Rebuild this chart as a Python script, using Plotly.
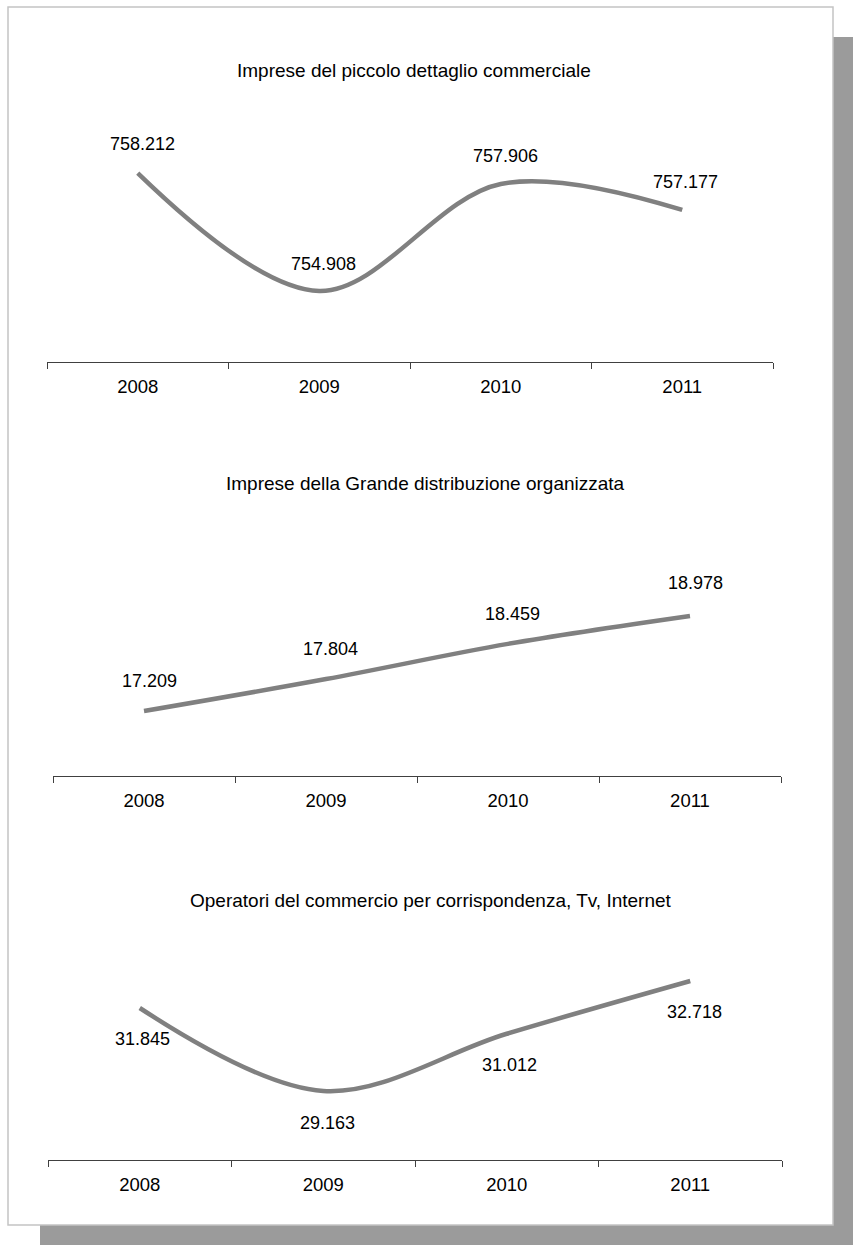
import plotly.graph_objects as go

W, H = 853, 1245

years = ["2008", "2009", "2010", "2011"]

titles = [
    "Imprese del piccolo dettaglio commerciale",
    "Imprese della Grande distribuzione organizzata",
    "Operatori del commercio per corrispondenza, Tv, Internet",
]
values_small_retail = [758.212, 754.908, 757.906, 757.177]
values_large_retail = [17.209, 17.804, 18.459, 18.978]
values_mail_tv_web = [31.845, 29.163, 31.012, 32.718]
label_small_retail = ["758.212", "754.908", "757.906", "757.177"]
label_large_retail = ["17.209", "17.804", "18.459", "18.978"]
label_mail_tv_web = ["31.845", "29.163", "31.012", "32.718"]

series = [values_small_retail, values_large_retail, values_mail_tv_web]
labels = [label_small_retail, label_large_retail, label_mail_tv_web]

# layout (pixel) settings for each panel
x_px = [(47, 773), (53, 781), (48, 782)]
y_px = [(100, 362), (560, 776), (950, 1160)]
y_rng = [(752.919, 760.257), (15.999, 20.021), (26.930, 33.721)]
title_pos = [(414, 70), (425, 483), (431, 900)]
label_shift = [
    [(5, 29), (4, 27), (5, 28), (3, 28)],
    [(5, 30), (4, 30), (4, 30), (5, 33)],
    [(3, -31), (4, -32), (3, -31), (4, -31)],
]

FONT = "Liberation Sans, Arial, sans-serif"
fig = go.Figure()

def px_x(p):
    return p / W

def px_y(p):
    return 1 - p / H

shapes = [
    dict(type="rect", xref="paper", yref="paper", x0=px_x(40), x1=px_x(860),
         y0=px_y(1250), y1=px_y(37), fillcolor="#9b9b9b", line=dict(width=0), layer="below"),
    dict(type="rect", xref="paper", yref="paper", x0=px_x(8), x1=px_x(833),
         y0=px_y(1225), y1=px_y(7), fillcolor="#ffffff",
         line=dict(color="#c4c4c4", width=1.5), layer="below"),
]

annotations = []
for i in range(3):
    xa = "x" if i == 0 else f"x{i+1}"
    ya = "y" if i == 0 else f"y{i+1}"
    fig.add_trace(go.Scatter(
        x=years, y=series[i], mode="lines",
        line=dict(color="#808080", width=4.5, shape="spline", smoothing=1),
        xaxis=xa, yaxis=ya, hoverinfo="skip", showlegend=False,
    ))
    for j, (v, t) in enumerate(zip(series[i], labels[i])):
        dx, dy = label_shift[i][j]
        annotations.append(dict(
            x=j, y=v, xref=xa, yref=ya, text=t, showarrow=False,
            xshift=dx, yshift=dy, font=dict(family=FONT, size=18, color="#000000"),
        ))
    tx, ty = title_pos[i]
    annotations.append(dict(
        x=px_x(tx), y=px_y(ty), xref="paper", yref="paper", text=titles[i],
        showarrow=False, xanchor="center", yanchor="middle",
        font=dict(family=FONT, size=19, color="#000000"),
    ))
    xkey = "xaxis" if i == 0 else f"xaxis{i+1}"
    ykey = "yaxis" if i == 0 else f"yaxis{i+1}"
    fig.layout[xkey] = dict(
        domain=[px_x(x_px[i][0]), px_x(x_px[i][1])],
        anchor=ya, type="category", range=[-0.5, 3.5],
        showline=True, linecolor="#404040", linewidth=1.2,
        ticks="outside", tickson="boundaries", ticklen=6, tickcolor="#404040", tickwidth=1.2,
        showgrid=False, zeroline=False,
        tickfont=dict(family=FONT, size=18.5, color="#000000"),
        ticklabelstandoff=8, fixedrange=True,
    )
    fig.layout[ykey] = dict(
        domain=[px_y(y_px[i][1]), px_y(y_px[i][0])],
        anchor=xa, range=list(y_rng[i]), visible=False, fixedrange=True,
    )

fig.update_layout(
    width=W, height=H, margin=dict(l=0, r=0, t=0, b=0),
    paper_bgcolor="#ffffff", plot_bgcolor="rgba(0,0,0,0)",
    shapes=shapes, annotations=annotations, showlegend=False,
)

fig.write_html("out.html", config={"displayModeBar": False})
